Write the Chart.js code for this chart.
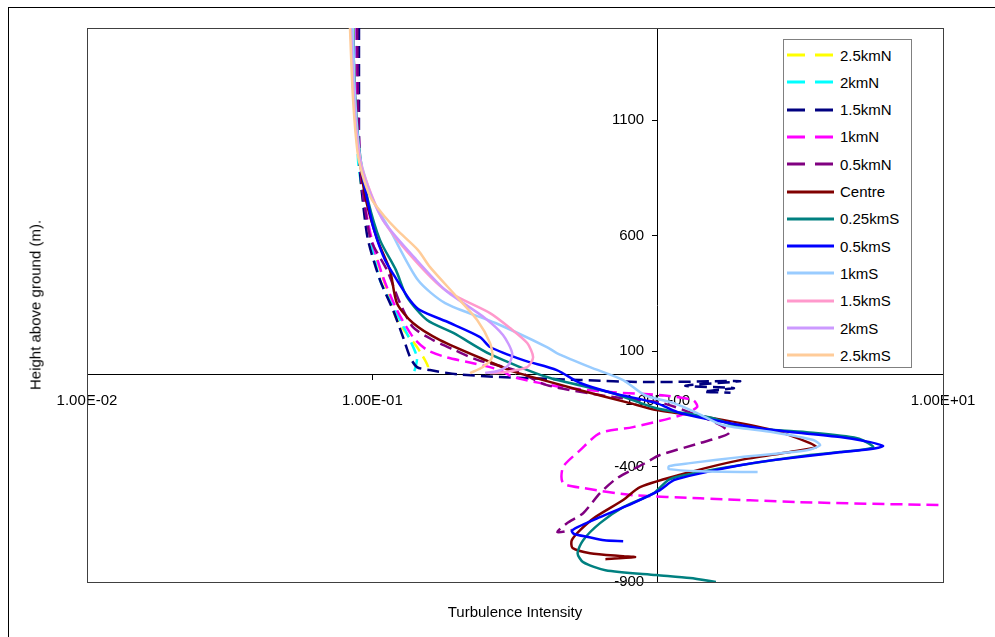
<!DOCTYPE html>
<html>
<head>
<meta charset="utf-8">
<title>Turbulence intensity profiles</title>
<script src="https://cdn.jsdelivr.net/npm/chart.js@4.4.0/dist/chart.umd.min.js"></script>
<style>
  body { margin: 0; background: #fff; font-family: "Liberation Sans", Arial, sans-serif; }
  #wrap { position: relative; width: 995px; height: 637px; overflow: hidden; background: #fff; }
  #frame { position: absolute; left: 8px; top: 7px; width: 1000px; height: 700px; border: 1px solid #000; }
  #chart { position: absolute; left: 0; top: 0; }
  .axis-title { position: absolute; font-size: 15px; color: #000; white-space: nowrap; }
  #xTitle { left: 515px; top: 611px; transform: translate(-50%, -50%); }
  #yTitle { left: 35px; top: 305px; transform: translate(-50%, -50%) rotate(-90deg); }
  #legend { position: absolute; left: 783px; top: 39px; width: 129px; height: 329px;
            border: 1px solid #808080; background: #fff; box-sizing: border-box; }
  .leg-item { position: absolute; left: 3px; height: 20px; display: flex; align-items: center;
              font-size: 15px; color: #000; white-space: nowrap; }
  .leg-item svg { margin-right: 6px; }
</style>
</head>
<body>
<div id="wrap">
  <div id="frame"></div>
  <canvas id="chart" width="995" height="637"></canvas>
  <div id="legend"></div>
  <div class="axis-title" id="xTitle">Turbulence Intensity</div>
  <div class="axis-title" id="yTitle">Height above ground (m).</div>
</div>
<script>
/* ── data: [turbulence intensity, height (m)] ── */
const n25 = [[0.0870,1500],[0.0885,1200],[0.0898,928],[0.0928,755],[0.1006,551],[0.1126,365],[0.1220,235],[0.1434,118],[0.1530,61],[0.1568,31],[0.1543,9]];
const n20 = [[0.0875,1500],[0.0885,1200],[0.0891,928],[0.0921,798],[0.0973,625],[0.1064,408],[0.1251,235],[0.1356,148],[0.1434,74],[0.1420,35],[0.1400,9]];
const n15 = [[0.0898,1500],[0.0898,1200],[0.0900,928],[0.0925,755],[0.0966,581],[0.1064,408],[0.1182,278],[0.1281,161],[0.1356,74],[0.1434,31],[0.1593,18],[0.198,0],[0.280,-12],[0.535,-25],[0.918,-34],[1.944,-30],[1.25,-50],[1.85,-60],[1.45,-75],[1.80,-80]];
const n10 = [[0.0880,1500],[0.0885,1200],[0.0905,928],[0.0935,755],[0.0997,581],[0.1090,421],[0.1220,278],[0.1388,161],[0.1555,105],[0.1812,74],[0.2255,48],[0.2803,18],[0.3115,-12],[0.466,-56],[0.698,-78],[1.036,-91],[1.331,-112],[1.375,-142],[1.21,-177],[0.82,-229],[0.628,-255],[0.535,-329],[0.466,-402],[0.466,-472],[0.548,-493],[0.82,-524],[1.408,-537],[3.156,-554],[9.77,-567]];
const n05 = [[0.0885,1500],[0.0890,1200],[0.0905,928],[0.0935,755],[0.0989,581],[0.1126,451],[0.1251,308],[0.1388,204],[0.1633,148],[0.194,105],[0.2345,61],[0.3166,18],[0.409,-47],[0.698,-99],[1.036,-125],[1.375,-177],[1.654,-220],[1.78,-255],[1.408,-298],[1.019,-350],[0.903,-385],[0.721,-450],[0.628,-515],[0.548,-602],[0.481,-645],[0.445,-684],[0.50,-675]];
const centre = [[0.0855,1500],[0.0870,1200],[0.0905,928],[0.0950,755],[0.1043,581],[0.1153,451],[0.1220,308],[0.1388,222],[0.1727,148],[0.2585,53],[0.317,9],[0.535,-69],[0.800,-125],[0.99,-155],[1.563,-190],[2.54,-242],[3.42,-298],[3.59,-316],[2.91,-337],[1.944,-372],[1.299,-424],[0.8675,-489],[0.757,-545],[0.6045,-619],[0.535,-675],[0.50,-719],[0.503,-753],[0.5795,-775],[0.757,-788],[0.833,-792],[0.656,-801]];
const s025 = [[0.0855,1500],[0.0870,1200],[0.0910,928],[0.0965,755],[0.1064,581],[0.121,451],[0.1323,334],[0.1555,235],[0.193,178],[0.2585,87],[0.409,-12],[0.698,-82],[0.99,-147],[1.563,-190],[1.944,-229],[3.33,-251],[5.0,-277],[5.69,-316],[4.358,-337],[3.421,-350],[1.944,-394],[1.408,-424],[1.10,-455],[0.97,-515],[0.757,-576],[0.628,-645],[0.548,-719],[0.524,-775],[0.548,-814],[0.656,-849],[0.99,-870],[1.299,-883],[1.6,-900]];
const s05 = [[0.0850,1500],[0.0865,1200],[0.0905,928],[0.096,755],[0.1014,625],[0.1108,495],[0.122,408],[0.1356,321],[0.1469,278],[0.1872,222],[0.2385,161],[0.2585,118],[0.338,61],[0.443,18],[0.535,-38],[0.698,-82],[0.99,-125],[1.198,-168],[1.794,-212],[2.54,-242],[4.358,-272],[5.553,-294],[6.17,-311],[5.6,-324],[4.14,-341],[2.54,-372],[1.944,-394],[1.48,-424],[1.14,-459],[1.019,-502],[0.82,-558],[0.628,-619],[0.524,-662],[0.50,-679],[0.51,-692],[0.57,-705],[0.65,-719],[0.757,-723]];
const s10 = [[0.0855,1500],[0.0870,1200],[0.0910,928],[0.1006,755],[0.1153,625],[0.1445,408],[0.18,308],[0.27,222],[0.409,118],[0.443,92],[0.5795,31],[0.757,-25],[0.903,-91],[1.14,-125],[1.375,-168],[1.69,-220],[2.54,-251],[3.51,-285],[3.71,-307],[3.33,-329],[1.944,-359],[1.299,-385],[1.095,-398],[1.095,-411],[1.408,-420],[2.24,-424]];
const s15 = [[0.0840,1500],[0.0860,1200],[0.0900,950],[0.095,841],[0.109,668],[0.1388,503],[0.18,365],[0.2585,265],[0.3039,200],[0.349,135],[0.366,74],[0.349,31],[0.2895,9],[0.2585,5]];
const s20 = [[0.0840,1500],[0.0860,1200],[0.0895,950],[0.0943,841],[0.109,668],[0.1411,503],[0.18,365],[0.2485,243],[0.287,170],[0.309,92],[0.300,40],[0.275,14],[0.2485,5]];
const s25 = [[0.0835,1500],[0.0855,1200],[0.0890,950],[0.0935,841],[0.0997,755],[0.1108,681],[0.1220,625],[0.1446,538],[0.1593,464],[0.1982,334],[0.2330,235],[0.2585,135],[0.263,74],[0.244,31],[0.220,5]];

const seriesNames = ["2.5kmN", "2kmN", "1.5kmN", "1kmN", "0.5kmN", "Centre", "0.25kmS", "0.5kmS", "1kmS", "1.5kmS", "2kmS", "2.5kmS"];
const seriesData = [n25, n20, n15, n10, n05, centre, s025, s05, s10, s15, s20, s25];

const xTicks = [0.01, 0.1, 1, 10];
const xTickLabels = ["1.00E-02", "1.00E-01", "1.00E+00", "1.00E+01"];
const yTicks = [-900, -400, 100, 600, 1100];

/* ── styles ── */
const colors = ["#FFFF00", "#00FFFF", "#000080", "#FF00FF", "#800080", "#800000",
                "#008080", "#0000FF", "#99CCFF", "#FF99CC", "#CC99FF", "#FFCC99"];
const dashed = [true, true, true, true, true, false, false, false, false, false, false, false];
const font = { family: "'Liberation Sans', Arial, sans-serif", size: 15 };

/* plot area border */
const plotFrame = {
  id: "plotFrame",
  beforeDatasetsDraw(chart) {
    const { ctx, chartArea: a } = chart;
    ctx.save();
    ctx.strokeStyle = "#404040";
    ctx.lineWidth = 1;
    ctx.strokeRect(a.left + 0.5, a.top + 0.5, a.right - a.left, a.bottom - a.top);
    ctx.restore();
  }
};

const setYTicks = s => { s.ticks = yTicks.map(v => ({ value: v })); };

new Chart(document.getElementById("chart"), {
  type: "scatter",
  data: {
    datasets: seriesData.map((d, i) => ({
      label: seriesNames[i],
      data: d.map(p => ({ x: p[0], y: p[1] })),
      showLine: true,
      borderColor: colors[i],
      backgroundColor: colors[i],
      borderWidth: 2.5,
      borderDash: dashed[i] ? [12, 6] : [],
      pointRadius: 0,
      tension: 0.25,
      order: seriesData.length - i,
    })),
  },
  options: {
    responsive: false,
    animation: false,
    layout: { padding: { left: 87, right: 52, top: 28, bottom: 55 } },
    plugins: { legend: { display: false }, tooltip: { enabled: false } },
    scales: {
      x: {
        type: "logarithmic",
        min: 0.01,
        max: 10,
        position: { y: 0 },
        afterBuildTicks: s => { s.ticks = xTicks.map(v => ({ value: v, major: true })); },
        ticks: {
          callback: (v, i) => xTickLabels[i],
          font, color: "#000", padding: 13, maxRotation: 0, autoSkip: false,
        },
        grid: { drawOnChartArea: false, drawTicks: true, tickLength: 5, color: "#000" },
        border: { display: true, color: "#000", width: 1 },
      },
      y: {
        type: "linear",
        min: -900,
        max: 1500,
        position: { x: 1 },
        afterBuildTicks: setYTicks,
        ticks: { display: false },
        grid: { drawOnChartArea: false, drawTicks: true, tickLength: 5, color: "#000" },
        border: { display: true, color: "#000", width: 1 },
      },
      // labels of the vertical axis, set just left of its tick marks
      yLabels: {
        type: "linear",
        axis: "y",
        min: -900,
        max: 1500,
        position: { x: 0.897 },
        afterBuildTicks: setYTicks,
        ticks: { callback: v => String(v), font, color: "#000" },
        grid: { display: false },
        border: { display: false },
      },
    },
  },
  plugins: [plotFrame],
});

/* ── custom legend ── */
const legend = document.getElementById("legend");
seriesNames.forEach((name, i) => {
  const item = document.createElement("div");
  item.className = "leg-item";
  item.style.top = (5 + i * 27.3) + "px";
  const dash = dashed[i] ? 'stroke-dasharray="18 10"' : "";
  item.innerHTML = `
    <svg width="47" height="6"><line x1="0" y1="3" x2="47" y2="3" stroke="${colors[i]}" stroke-width="3" ${dash}/></svg>
    <span>${name}</span>
  `;
  legend.appendChild(item);
});
</script>
</body>
</html>
